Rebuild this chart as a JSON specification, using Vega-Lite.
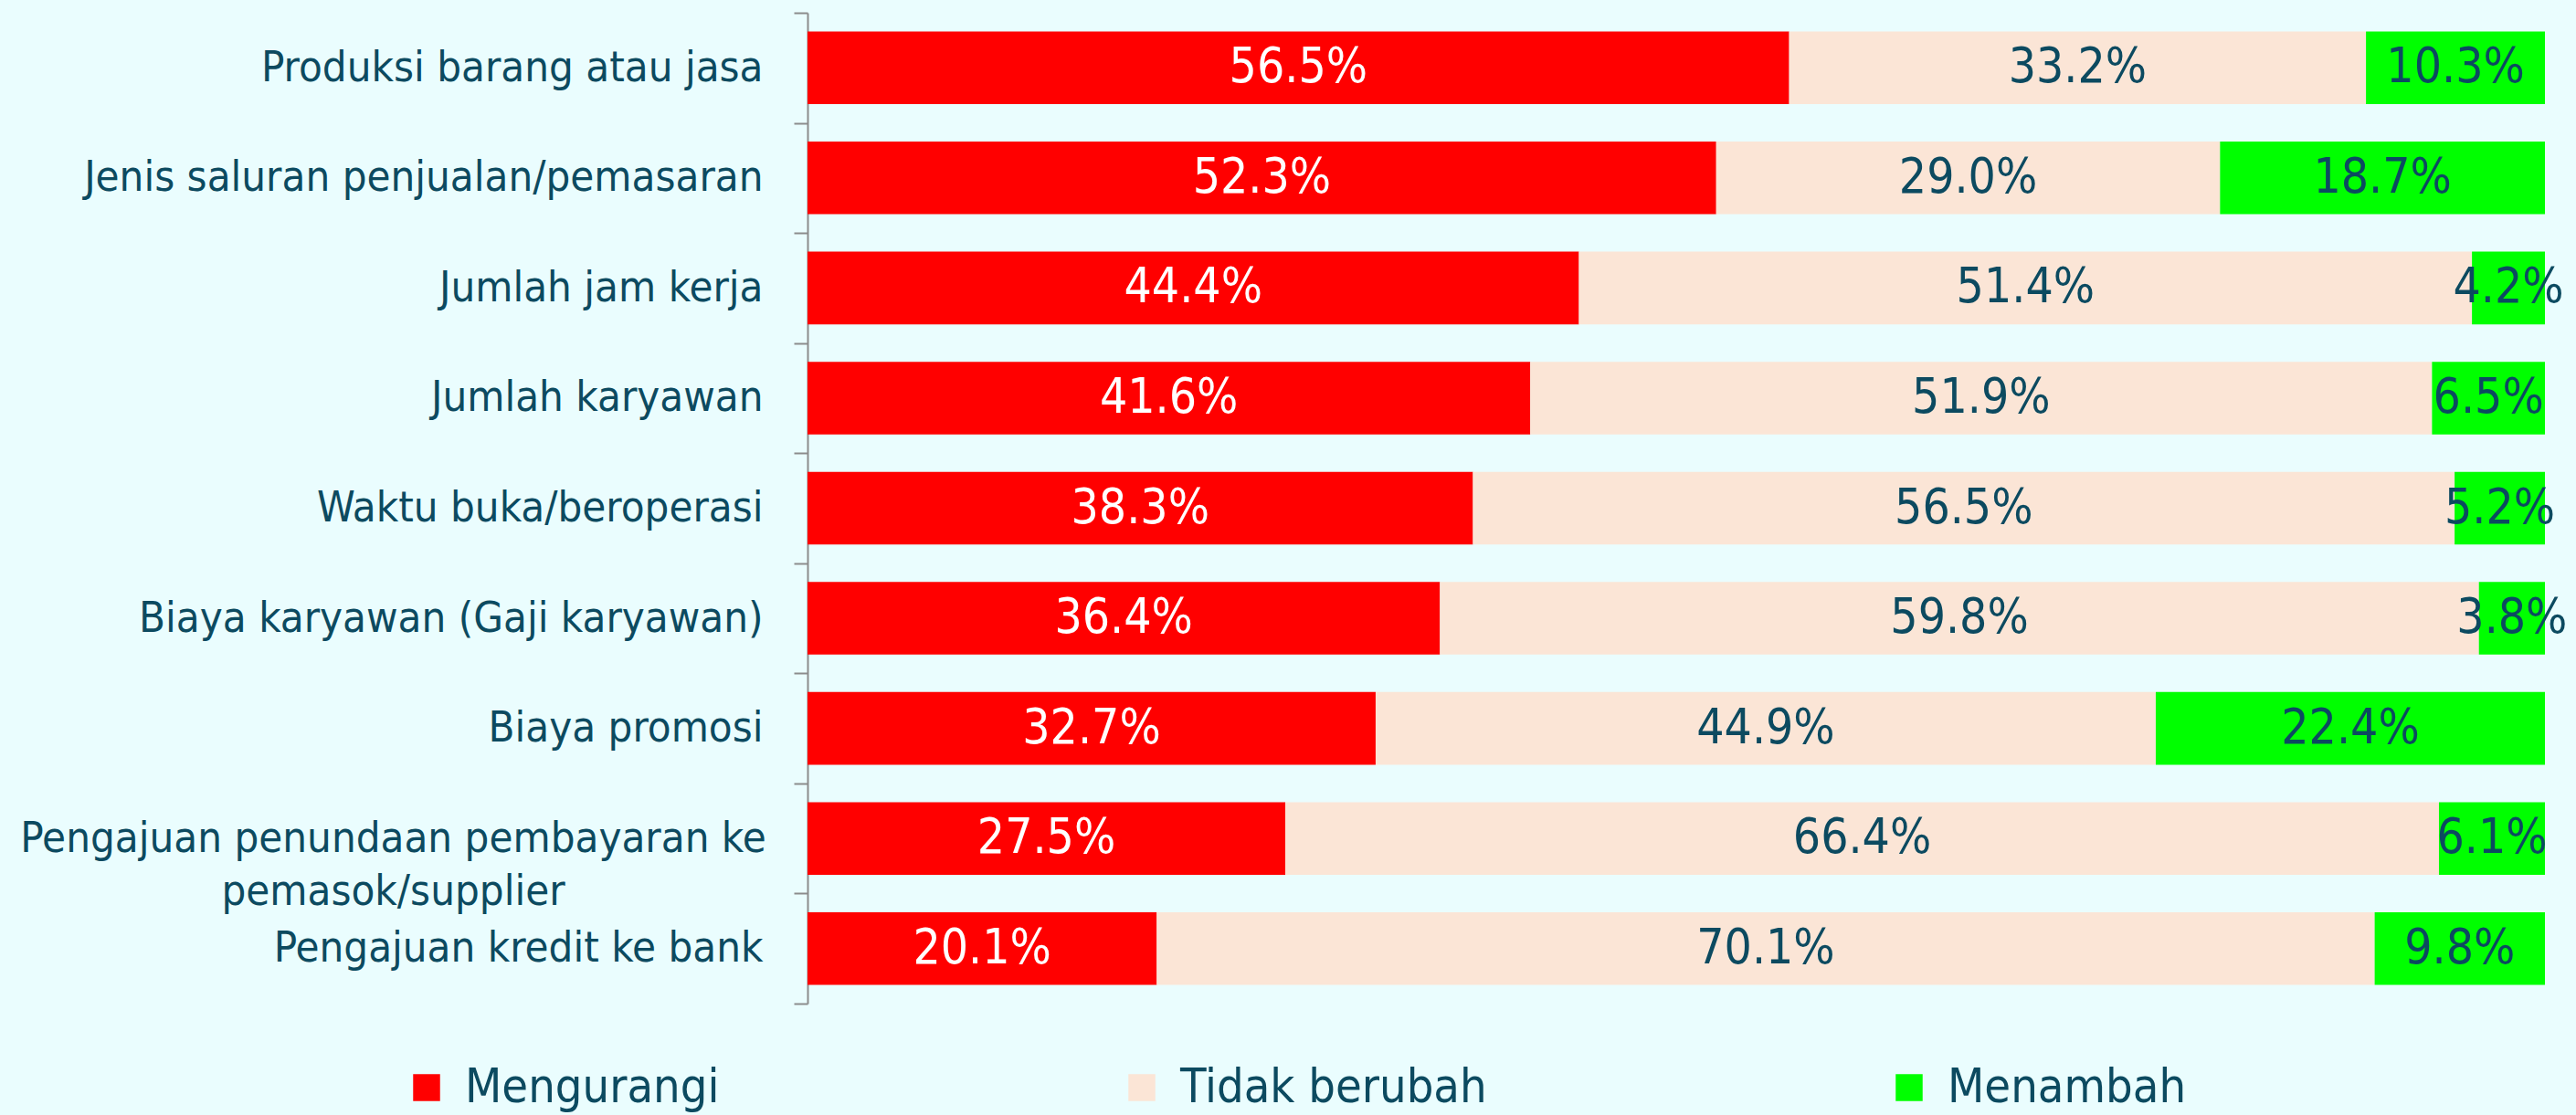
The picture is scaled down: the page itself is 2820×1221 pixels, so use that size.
{
  "$schema": "https://vega.github.io/schema/vega-lite/v6.json",
  "width": 1902,
  "height": 1085,
  "autosize": {"type": "none"},
  "padding": {"left": 884, "top": 14, "right": 34, "bottom": 122},
  "background": "#EAFDFE",
  "config": {"view": {"stroke": null}, "font": "DejaVu Sans Condensed"},
  "data": {
    "values": [
      {"kategori": "Produksi barang atau jasa", "jenis": "Mengurangi", "urutan": 1, "nilai": 0.565},
      {"kategori": "Produksi barang atau jasa", "jenis": "Tidak berubah", "urutan": 2, "nilai": 0.332},
      {"kategori": "Produksi barang atau jasa", "jenis": "Menambah", "urutan": 3, "nilai": 0.103},
      {"kategori": "Jenis saluran penjualan/pemasaran", "jenis": "Mengurangi", "urutan": 1, "nilai": 0.523},
      {"kategori": "Jenis saluran penjualan/pemasaran", "jenis": "Tidak berubah", "urutan": 2, "nilai": 0.290},
      {"kategori": "Jenis saluran penjualan/pemasaran", "jenis": "Menambah", "urutan": 3, "nilai": 0.187},
      {"kategori": "Jumlah jam kerja", "jenis": "Mengurangi", "urutan": 1, "nilai": 0.444},
      {"kategori": "Jumlah jam kerja", "jenis": "Tidak berubah", "urutan": 2, "nilai": 0.514},
      {"kategori": "Jumlah jam kerja", "jenis": "Menambah", "urutan": 3, "nilai": 0.042},
      {"kategori": "Jumlah karyawan", "jenis": "Mengurangi", "urutan": 1, "nilai": 0.416},
      {"kategori": "Jumlah karyawan", "jenis": "Tidak berubah", "urutan": 2, "nilai": 0.519},
      {"kategori": "Jumlah karyawan", "jenis": "Menambah", "urutan": 3, "nilai": 0.065},
      {"kategori": "Waktu buka/beroperasi", "jenis": "Mengurangi", "urutan": 1, "nilai": 0.383},
      {"kategori": "Waktu buka/beroperasi", "jenis": "Tidak berubah", "urutan": 2, "nilai": 0.565},
      {"kategori": "Waktu buka/beroperasi", "jenis": "Menambah", "urutan": 3, "nilai": 0.052},
      {"kategori": "Biaya karyawan (Gaji karyawan)", "jenis": "Mengurangi", "urutan": 1, "nilai": 0.364},
      {"kategori": "Biaya karyawan (Gaji karyawan)", "jenis": "Tidak berubah", "urutan": 2, "nilai": 0.598},
      {"kategori": "Biaya karyawan (Gaji karyawan)", "jenis": "Menambah", "urutan": 3, "nilai": 0.038},
      {"kategori": "Biaya promosi", "jenis": "Mengurangi", "urutan": 1, "nilai": 0.327},
      {"kategori": "Biaya promosi", "jenis": "Tidak berubah", "urutan": 2, "nilai": 0.449},
      {"kategori": "Biaya promosi", "jenis": "Menambah", "urutan": 3, "nilai": 0.224},
      {"kategori": "Pengajuan penundaan pembayaran ke pemasok/supplier", "jenis": "Mengurangi", "urutan": 1, "nilai": 0.275},
      {"kategori": "Pengajuan penundaan pembayaran ke pemasok/supplier", "jenis": "Tidak berubah", "urutan": 2, "nilai": 0.664},
      {"kategori": "Pengajuan penundaan pembayaran ke pemasok/supplier", "jenis": "Menambah", "urutan": 3, "nilai": 0.061},
      {"kategori": "Pengajuan kredit ke bank", "jenis": "Mengurangi", "urutan": 1, "nilai": 0.201},
      {"kategori": "Pengajuan kredit ke bank", "jenis": "Tidak berubah", "urutan": 2, "nilai": 0.701},
      {"kategori": "Pengajuan kredit ke bank", "jenis": "Menambah", "urutan": 3, "nilai": 0.098}
    ]
  },
  "encoding": {
    "y": {
      "field": "kategori",
      "type": "nominal",
      "sort": null,
      "scale": {"paddingInner": 0, "paddingOuter": 0},
      "axis": {
        "title": null,
        "labelFont": "DejaVu Sans Condensed",
        "labelFontSize": 47,
        "labelColor": "#0C4A60",
        "labelPadding": {"condition": {"test": "datum.value == 'Pengajuan penundaan pembayaran ke pemasok/supplier'", "value": 439}, "value": 34},
        "labelAlign": {"condition": {"test": "datum.value == 'Pengajuan penundaan pembayaran ke pemasok/supplier'", "value": "center"}, "value": "right"},
        "labelLimit": 1200,
        "labelLineHeight": 58,
        "labelExpr": "datum.value == 'Pengajuan penundaan pembayaran ke pemasok/supplier' ? ['Pengajuan penundaan pembayaran ke', 'pemasok/supplier'] : datum.value",
        "tickBand": "extent",
        "tickSize": 15,
        "tickWidth": 2,
        "tickColor": "#8C8C8C",
        "domainColor": "#8C8C8C",
        "domainWidth": 2,
        "grid": false
      }
    }
  },
  "layer": [
    {
      "mark": {"type": "bar", "height": {"band": 0.66}},
      "encoding": {
        "x": {"field": "nilai", "type": "quantitative", "stack": "zero", "scale": {"domain": [0, 1]}, "axis": null},
        "order": {"field": "urutan", "type": "quantitative", "sort": "ascending"},
        "color": {
          "field": "jenis",
          "type": "nominal",
          "sort": ["Mengurangi", "Tidak berubah", "Menambah"],
          "scale": {"domain": ["Mengurangi", "Tidak berubah", "Menambah"], "range": ["#FF0000", "#FBE5D6", "#00FF00"]},
          "legend": {
            "title": null,
            "orient": "none",
            "direction": "horizontal",
            "legendX": -443,
            "legendY": 1151,
            "padding": 0,
            "labelFont": "DejaVu Sans Condensed",
            "labelFontSize": 52,
            "labelColor": "#0C4A60",
            "labelLimit": 1000,
            "labelOffset": 16,
            "symbolType": "square",
            "symbolSize": 870,
            "symbolStrokeWidth": 0,
            "columnPadding": 436
          }
        }
      }
    },
    {
      "mark": {"type": "text", "font": "DejaVu Sans Condensed", "fontSize": 53},
      "encoding": {
        "x": {"field": "nilai", "type": "quantitative", "stack": "zero", "bandPosition": 0.5, "scale": {"domain": [0, 1]}, "axis": null},
        "order": {"field": "urutan", "type": "quantitative", "sort": "ascending"},
        "text": {"field": "nilai", "type": "quantitative", "format": ".1%"},
        "color": {
          "field": "jenis",
          "type": "nominal",
          "sort": ["Mengurangi", "Tidak berubah", "Menambah"],
          "scale": {"domain": ["Mengurangi", "Tidak berubah", "Menambah"], "range": ["#FFFFFF", "#0C4A60", "#0C4A60"]},
          "legend": null
        }
      }
    }
  ],
  "resolve": {"scale": {"color": "independent"}}
}
